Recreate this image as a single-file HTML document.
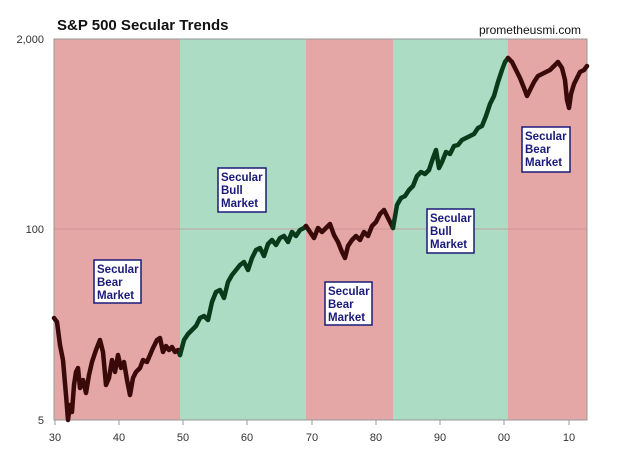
<!DOCTYPE html><html><head><style>body{margin:0;background:#fff}svg{display:block}</style></head><body>
<svg width="640" height="452" viewBox="0 0 640 452" xmlns="http://www.w3.org/2000/svg" font-family="Liberation Sans, sans-serif">
<rect x="54" y="39" width="126" height="381" fill="#e5a6a6"/>
<rect x="180" y="39" width="126" height="381" fill="#acdcc3"/>
<rect x="306" y="39" width="87" height="381" fill="#e5a6a6"/>
<rect x="393" y="39" width="115" height="381" fill="#acdcc3"/>
<rect x="508" y="39" width="79" height="381" fill="#e5a6a6"/>
<line x1="54" y1="229" x2="587" y2="229" stroke="#c09090" stroke-width="0.8"/>
<rect x="54" y="39" width="533" height="381" fill="none" stroke="#999" stroke-width="1"/>
<g stroke="#999" stroke-width="1"><line x1="55" y1="420" x2="55" y2="425"/><line x1="119" y1="420" x2="119" y2="425"/><line x1="183" y1="420" x2="183" y2="425"/><line x1="247" y1="420" x2="247" y2="425"/><line x1="312" y1="420" x2="312" y2="425"/><line x1="376" y1="420" x2="376" y2="425"/><line x1="440" y1="420" x2="440" y2="425"/><line x1="504" y1="420" x2="504" y2="425"/><line x1="569" y1="420" x2="569" y2="425"/></g>
<g font-size="11" fill="#333" text-anchor="middle"><text x="55" y="441">30</text><text x="119" y="441">40</text><text x="183" y="441">50</text><text x="247" y="441">60</text><text x="312" y="441">70</text><text x="376" y="441">80</text><text x="440" y="441">90</text><text x="504" y="441">00</text><text x="569" y="441">10</text></g>
<g font-size="11" fill="#333" text-anchor="end"><text x="44" y="43">2,000</text><text x="44" y="233">100</text><text x="44" y="424">5</text></g>
<text x="57" y="30" font-size="15" font-weight="bold" fill="#111">S&amp;P 500 Secular Trends</text>
<text x="581" y="34" font-size="12" fill="#111" text-anchor="end">prometheusmi.com</text>
<g fill="none" stroke-width="4.5" stroke-linejoin="round" stroke-linecap="round">
<polyline stroke="#3a0a0a" points="54,318 57,322 60,345 63,360 66,395 68,420 70,405 72,412 74,385 76,372 78,368 80,388 83,380 86,393 89,375 92,362 96,350 100,340 103,352 106,385 109,378 112,360 115,372 118,355 121,368 124,362 127,380 130,395 133,378 136,372 140,368 143,360 147,362 150,355 153,348 157,340 160,338 163,352 166,346 169,350 172,347 175,352 178,350 180,355"/>
<polyline stroke="#0a3a1a" points="180,355 184,340 188,334 192,330 196,326 200,318 204,316 208,320 212,302 216,292 220,290 224,298 228,282 232,275 236,270 240,265 244,262 248,270 252,258 256,250 260,248 264,256 268,244 272,240 276,245 280,238 284,236 288,242 292,232 296,236 300,230 304,228 306,226"/>
<polyline stroke="#3a0a0a" points="306,226 310,232 314,238 318,228 322,232 326,228 330,224 334,235 338,242 342,252 345,258 348,246 352,240 356,236 360,240 364,232 368,236 372,226 376,222 380,214 384,210 388,218 393,228"/>
<polyline stroke="#0a3a1a" points="393,228 397,205 401,198 405,196 409,190 413,186 417,176 421,172 425,174 429,170 433,158 436,150 439,168 442,162 446,152 450,154 454,146 458,145 462,140 466,138 470,136 474,134 478,128 482,126 486,116 490,104 494,96 498,82 502,70 505,62 508,58"/>
<polyline stroke="#3a0a0a" points="508,58 512,62 516,70 520,78 524,88 527,96 530,90 534,82 538,76 542,74 546,72 550,70 554,66 558,62 562,68 565,80 567,100 569,108 571,94 574,84 577,78 580,72 584,70 587,66"/>
</g>
<g font-size="11.5" font-weight="bold" fill="#1a1a7a">
<rect x="94" y="260" width="47" height="43" fill="#fff" stroke="#1a1a7a" stroke-width="1.5"/><text x="97" y="273">Secular</text><text x="97" y="286">Bear</text><text x="97" y="299">Market</text>
<rect x="218" y="168" width="48" height="44" fill="#fff" stroke="#1a1a7a" stroke-width="1.5"/><text x="221" y="181">Secular</text><text x="221" y="194">Bull</text><text x="221" y="207">Market</text>
<rect x="325" y="282" width="47" height="43" fill="#fff" stroke="#1a1a7a" stroke-width="1.5"/><text x="328" y="295">Secular</text><text x="328" y="308">Bear</text><text x="328" y="321">Market</text>
<rect x="427" y="209" width="47" height="44" fill="#fff" stroke="#1a1a7a" stroke-width="1.5"/><text x="430" y="222">Secular</text><text x="430" y="235">Bull</text><text x="430" y="248">Market</text>
<rect x="522" y="127" width="48" height="45" fill="#fff" stroke="#1a1a7a" stroke-width="1.5"/><text x="525" y="140">Secular</text><text x="525" y="153">Bear</text><text x="525" y="166">Market</text>
</g>
</svg></body></html>
